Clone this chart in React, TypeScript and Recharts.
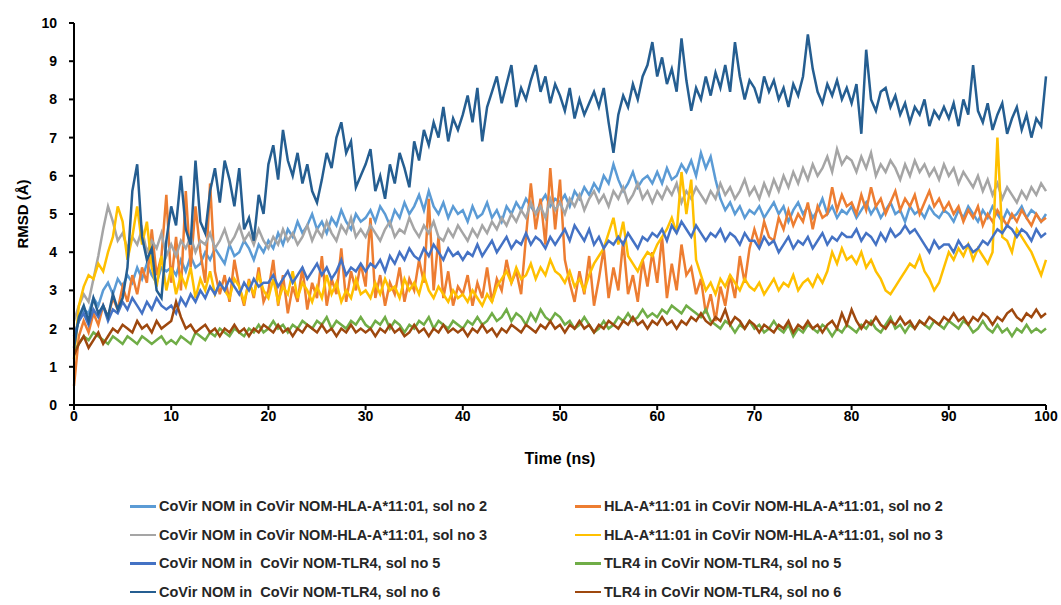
import { CartesianGrid, Legend, Line, LineChart, XAxis, YAxis } from 'recharts';

// sampled every 0.5 ns, 0..100
const time = Array.from({ length: 201 }, (_, i) => i * 0.5);

const nomHlaSol2 = [
  1.8, 2.2, 2.5, 2.4, 2.8, 2.6, 3.0, 3.2, 2.9, 3.3, 3.1, 3.4, 3.2, 3.6, 3.3, 3.7, 3.4, 3.2, 3.6, 3.5,
  3.6, 3.4, 3.8, 3.5, 3.9, 3.6, 3.7, 4.0, 3.8, 4.1, 3.9, 3.7, 4.2, 3.9, 4.0, 4.3, 4.1, 3.8, 4.2, 4.0,
  4.3, 4.1, 4.5, 4.2, 4.6, 4.4, 4.8, 4.5, 4.7, 5.0, 4.6, 4.8, 4.5, 4.9, 4.7, 5.1, 4.8, 4.6, 5.0, 4.8,
  4.9, 5.1, 4.8, 5.2, 5.0, 4.7, 5.1, 4.9, 5.3, 5.0, 5.2, 5.5, 5.1, 5.6, 5.2, 5.0, 5.3, 4.9, 5.2, 5.0,
  5.1, 4.8, 5.2, 4.9, 5.0, 5.3, 4.9, 5.1, 4.8, 5.2, 5.0, 5.3, 5.1, 5.4, 5.2, 5.0, 5.3, 5.5, 5.2, 5.4,
  5.3, 5.5, 5.2, 5.6, 5.4, 5.7, 5.5, 5.8, 5.6, 6.0, 5.8, 6.3, 5.9, 5.6, 5.8, 6.1, 5.7, 5.9, 6.0, 5.8,
  6.1, 5.8, 6.2, 5.9, 6.0, 6.3, 6.1, 6.4, 6.0, 6.6, 6.2, 6.5, 5.9, 5.4, 5.1, 5.3, 5.0, 5.2, 4.9, 5.1,
  5.0, 5.2, 4.9, 5.1, 5.3, 5.0, 5.2, 4.8, 5.1, 5.3, 5.0, 5.2, 4.9, 5.1, 5.4, 5.0, 5.2, 4.9, 5.1, 5.0,
  5.2, 4.9, 5.1, 5.3, 5.0, 5.2, 4.9, 5.1, 5.3, 5.0, 5.1, 4.8, 5.2, 5.0, 5.1, 4.9, 5.2, 5.0, 4.9, 5.1,
  5.0, 4.8, 5.1, 4.9, 5.2, 5.0, 4.8, 5.1, 4.9, 5.2, 5.0, 4.8, 5.1, 4.9, 5.0, 5.2, 4.9, 5.1, 5.0, 4.8,
  5.0,
];

const hlaSol2 = [
  0.5, 1.8, 2.2, 1.9, 2.4, 2.1, 2.6, 2.3, 2.8, 2.5, 3.1, 2.7, 3.4, 2.9, 3.6, 3.2, 4.6, 3.4, 3.9, 5.5,
  3.2, 4.4, 3.0, 5.6, 3.6, 5.2, 4.0, 3.2, 5.8, 3.5, 2.9, 3.4, 2.7, 3.8, 3.1, 2.6, 3.3, 2.8, 3.6, 2.7,
  3.0, 3.8, 2.6, 3.4, 2.4, 3.1, 2.7, 3.6, 2.5, 3.2, 2.8, 3.9, 2.6, 3.3, 2.9, 4.1, 2.7, 3.5, 3.0, 3.7,
  3.1, 4.9, 2.8, 3.4, 2.6, 3.2, 2.9, 3.6, 2.7, 3.3, 3.0, 3.8, 3.2, 5.4, 3.0, 4.4, 2.8, 3.5, 2.6, 3.1,
  2.9, 3.4, 2.6, 3.2, 2.8, 3.6, 2.7, 3.3, 3.0, 3.8, 3.2, 3.5, 2.9, 4.4, 5.8, 4.6, 5.4, 4.2, 6.2, 4.6,
  5.9, 3.8, 3.2, 2.7, 3.5, 2.9, 3.9, 2.6, 3.3, 4.1, 2.8, 3.6, 3.0, 4.3, 2.9, 3.4, 2.7, 3.8, 3.1, 4.0,
  3.2, 4.4, 2.8, 3.7, 3.0, 4.2, 3.4, 3.6, 2.9, 3.3, 2.4, 2.9, 2.2, 3.1, 2.6, 3.4, 2.8, 3.9, 3.2, 4.1,
  4.6, 4.2, 4.8, 4.4, 4.3, 4.9, 4.6, 5.1, 4.7, 5.0, 4.8, 5.3, 4.6, 5.2, 4.9, 5.0, 5.7, 5.1, 5.5, 5.2,
  5.3, 5.0, 5.5, 5.1, 5.7, 5.2, 5.4, 5.0, 5.3, 5.6, 5.1, 5.4, 5.2, 5.5, 5.0, 5.3, 5.6, 5.2, 5.4, 5.1,
  5.3, 5.0, 5.2, 4.8, 5.1, 4.9, 5.2, 4.7, 5.0, 4.8, 5.1, 4.9, 4.7, 5.0, 4.8, 5.1, 4.9, 4.7, 5.0, 4.8,
  4.9,
];

const nomHlaSol3 = [
  2.2, 2.6, 2.9, 2.7, 3.3, 3.9, 4.6, 5.2, 4.8, 4.3, 4.5, 4.1, 4.4, 4.2, 4.6, 4.0, 4.3, 4.1, 4.5, 3.9,
  4.2, 3.9, 4.3, 4.1, 4.4, 4.0, 4.3, 4.2, 4.5, 4.1, 4.3, 4.6, 4.2, 4.4, 4.7, 4.3, 4.5, 4.2, 4.6, 4.3,
  4.1, 4.4, 4.2, 4.6, 4.3, 4.5, 4.2, 4.4, 4.7, 4.3, 4.6, 4.4, 4.8, 4.5, 4.3, 4.7, 4.5, 4.9, 4.4, 4.6,
  4.4, 4.7, 4.5, 4.3, 4.6, 4.8, 4.4, 4.6, 4.5, 4.9, 4.6, 4.4, 4.7, 4.5, 4.8, 4.4, 4.3, 4.6, 4.4, 4.7,
  4.5, 4.3, 4.6, 4.4, 4.7, 4.5, 4.8, 4.6, 4.9, 4.7, 5.0, 4.8, 5.1, 4.9, 5.3, 5.0, 5.2, 4.9, 5.4, 5.1,
  5.3, 5.0, 5.4, 5.2, 5.5, 5.1, 5.4, 5.6, 5.3, 5.5, 5.2, 5.6, 5.4, 5.7, 5.3, 5.5, 5.8, 5.4, 5.6, 5.3,
  5.6, 5.4, 5.7, 5.5, 5.8, 5.3, 5.6, 5.4, 5.7, 5.5, 5.3, 5.6, 5.4, 5.8, 5.5, 5.7, 5.4, 5.6, 5.9, 5.5,
  5.7, 5.4, 5.8, 5.5, 5.9, 5.6, 6.0, 5.7, 6.1, 5.8, 6.2, 5.9, 6.3, 6.0, 6.2, 6.5, 6.1, 6.7, 6.3, 6.5,
  6.4, 6.1, 6.5, 6.2, 6.6, 6.0, 6.3, 6.1, 6.4, 6.2, 5.9, 6.3, 6.0, 6.4, 6.1, 6.3, 6.0, 6.2, 5.9, 6.3,
  6.0, 6.2, 5.8, 6.1, 5.9, 5.7, 6.0, 5.6, 5.9, 5.5, 5.8, 5.4, 5.7, 5.5, 5.3, 5.6, 5.4, 5.7, 5.5, 5.8,
  5.6,
];

const hlaSol3 = [
  1.2, 2.6, 3.1, 3.4, 3.3, 3.7, 3.5, 4.0, 4.4, 5.2, 4.8, 3.8, 4.4, 5.2, 4.2, 4.8, 3.6, 3.1, 3.9, 3.0,
  3.6, 2.9, 3.4, 3.1, 3.6, 2.8, 3.3, 3.0, 3.5, 2.9, 3.2, 3.0, 2.8, 3.3, 3.1, 2.7, 3.2, 2.9, 3.4, 3.0,
  2.8, 3.3, 2.7, 3.1, 2.9, 3.5, 2.8, 3.2, 3.0, 2.7, 3.1, 2.8, 3.4, 2.9, 3.2, 2.7, 3.0, 2.8, 3.3, 2.9,
  3.0, 2.8, 3.2, 2.9, 3.3, 3.0, 3.1, 2.8, 3.3, 3.0, 3.2, 2.9, 3.4, 3.0, 2.8, 3.1, 2.9, 2.7, 3.0, 2.8,
  2.9, 2.7, 3.0, 2.8, 2.6, 2.9, 2.7, 3.1, 3.3, 3.5, 3.2, 3.6, 3.3, 3.4, 3.7, 3.3, 3.6, 3.4, 3.8, 3.5,
  3.4, 3.2, 3.5, 3.1, 3.3, 3.0, 3.4, 3.7, 3.9, 4.1, 4.5, 4.9, 4.2, 4.8, 3.9, 3.7, 3.5, 3.8, 4.0, 3.9,
  4.2, 4.4, 4.6, 4.9, 4.5, 6.1, 5.0, 5.9, 3.8, 3.4, 3.0, 3.2, 2.9, 3.3, 3.1, 3.4, 3.2, 3.0, 3.3, 3.1,
  3.0, 3.2, 2.9, 3.1, 3.3, 3.0, 3.2, 3.1, 3.4, 3.0, 3.2, 3.3, 3.1, 3.4, 3.2, 3.5, 4.0, 3.7, 4.1, 3.8,
  3.9, 3.7, 4.0, 3.6, 3.8, 3.5, 3.3, 3.0, 2.9, 3.1, 3.3, 3.5, 3.7, 3.6, 3.9, 3.5, 3.3, 3.0, 3.2, 3.6,
  4.0, 3.8, 4.1, 3.9, 4.2, 3.8, 4.1, 3.9, 3.7, 4.0, 7.0, 4.4, 4.3, 4.0, 4.6, 4.4, 4.2, 4.0, 3.7, 3.4,
  3.8,
];

const nomTlrSol5 = [
  1.8, 2.2, 2.4, 2.1, 2.5, 2.3, 2.6, 2.2, 2.5, 2.4, 2.7, 2.5, 2.8, 2.6, 2.4, 2.7, 2.5, 2.8, 2.6, 2.5,
  2.6, 2.4, 2.8, 2.6, 2.9, 2.7, 3.0, 2.8, 3.1, 2.9, 3.2, 3.0, 3.3, 3.1, 2.9, 3.2, 3.0, 3.3, 3.1, 3.2,
  3.2, 3.4, 3.1, 3.3, 3.5, 3.2, 3.4, 3.6, 3.3, 3.5, 3.7, 3.4, 3.6, 3.3, 3.5, 3.8, 3.4, 3.6, 3.5, 3.7,
  3.5, 3.7, 3.6, 3.8, 3.5, 3.9, 3.7, 4.0, 3.8, 4.1, 3.9, 3.8, 4.1, 3.9, 4.2, 4.0, 3.8, 4.1, 3.9, 4.0,
  3.8, 4.0, 3.9, 4.2, 3.9, 4.1, 4.3, 4.0, 4.2, 4.4, 4.1, 4.3, 4.2, 4.5, 4.2, 4.4, 4.3, 4.1, 4.4, 4.2,
  4.4, 4.6, 4.3, 4.7, 4.5, 4.3, 4.6, 4.2, 4.4, 4.1, 4.3, 4.2, 4.4, 4.2, 4.5, 4.3, 4.1, 4.4, 4.3, 4.5,
  4.4, 4.6, 4.3, 4.7, 4.5, 4.8, 4.6, 4.4, 4.7, 4.5, 4.3, 4.5, 4.4, 4.6, 4.3, 4.5, 4.4, 4.2, 4.5, 4.3,
  4.3, 4.1, 4.4, 4.2, 4.3, 4.0, 4.2, 4.4, 4.1, 4.3, 4.2, 4.4, 4.1, 4.3, 4.5, 4.2, 4.4, 4.3, 4.5, 4.4,
  4.4, 4.6, 4.3, 4.5, 4.4, 4.2, 4.5, 4.3, 4.6, 4.4, 4.5, 4.7, 4.5, 4.6, 4.4, 4.2, 4.0, 4.3, 4.1, 4.2,
  4.2, 4.0, 4.3, 4.1, 4.2, 4.0, 4.1, 4.3, 4.2, 4.4, 4.6, 4.5, 4.7, 4.6, 4.4, 4.6, 4.5, 4.3, 4.6, 4.4,
  4.5,
];

const tlrSol5 = [
  1.4, 1.6, 1.8, 1.7, 1.9, 1.8, 1.7, 1.6, 1.8, 1.7, 1.6, 1.8, 1.7, 1.6, 1.8, 1.7, 1.6, 1.7, 1.8, 1.6,
  1.7, 1.6, 1.8, 1.7, 1.6, 1.9, 1.8, 1.7, 1.9, 1.8, 2.0, 1.9, 1.8, 2.0, 1.9, 1.8, 2.0, 1.9, 2.1, 1.9,
  2.0, 2.2, 2.0, 2.1, 1.9, 2.1, 2.0, 2.2, 2.1, 2.0, 2.2, 2.1, 2.3, 2.0, 2.2, 2.1, 2.0, 2.2, 2.1, 2.3,
  2.1, 2.0, 2.2, 2.1, 2.3, 2.0, 2.2, 2.1, 1.9, 2.1, 2.0, 2.2, 2.1, 2.3, 2.0, 2.2, 2.1, 2.0, 2.2, 2.1,
  2.0, 2.2, 2.1, 2.3, 2.1, 2.2, 2.4, 2.2, 2.3, 2.5, 2.2, 2.4, 2.3, 2.1, 2.4, 2.2, 2.5, 2.3, 2.2, 2.4,
  2.3, 2.1, 2.2, 2.0, 2.1, 2.3, 2.1, 1.9, 2.0, 2.2, 2.0, 2.1, 2.3, 2.2, 2.4, 2.2, 2.3, 2.5, 2.3, 2.4,
  2.3, 2.5, 2.4, 2.6, 2.5, 2.4, 2.6, 2.5, 2.4, 2.3, 2.5, 2.2, 2.1, 2.0, 2.2, 2.1, 1.9, 2.1, 2.0, 2.2,
  2.0, 2.1, 1.9, 2.0, 2.2, 2.0, 1.9, 2.1, 1.8, 2.0, 1.9, 2.1, 2.0, 1.9, 2.1, 2.0, 1.8, 2.0, 1.9, 2.1,
  2.0, 1.9, 2.1, 2.0, 2.2, 2.0, 1.9, 2.1, 2.3, 2.0, 2.1, 1.9, 2.1, 2.0, 2.2, 2.1, 2.0, 2.2, 2.1, 2.0,
  2.2, 2.1, 2.0, 2.2, 2.1, 1.9, 2.0, 2.2, 2.0, 1.9, 2.1, 1.9, 2.0, 1.8, 2.0, 1.9, 2.1, 1.9, 2.0, 1.9,
  2.0,
];

const nomTlrSol6 = [
  1.5, 2.3, 2.6, 2.2, 2.8, 2.4, 2.6, 2.3, 2.9, 2.5, 2.8, 3.6, 5.6, 6.3, 4.4, 3.8, 4.1, 3.0, 2.8, 4.3,
  5.2, 4.7, 6.0, 4.6, 4.2, 6.4, 4.8, 4.5, 5.6, 6.2, 5.3, 6.4, 5.9, 5.2, 6.2, 4.6, 4.9, 4.3, 5.5, 5.0,
  6.3, 6.8, 5.9, 7.2, 6.4, 6.0, 6.6, 5.8, 6.3, 5.6, 5.3, 5.9, 6.6, 6.2, 7.0, 7.4, 6.6, 6.9, 5.7, 6.0,
  6.3, 6.7, 5.6, 6.0, 5.4, 6.3, 5.8, 6.6, 6.2, 5.7, 6.9, 6.4, 7.2, 6.8, 7.4, 7.0, 7.8, 6.9, 7.5, 7.2,
  7.6, 8.1, 7.4, 8.3, 6.9, 7.8, 8.2, 8.6, 7.9, 8.4, 8.9, 7.8, 8.3, 8.0, 8.5, 8.9, 8.2, 8.6, 7.9, 8.4,
  8.1, 7.7, 8.3, 7.5, 8.0, 7.6, 7.9, 8.2, 7.8, 8.3, 7.4, 6.6, 7.6, 8.1, 7.8, 8.4, 8.0, 8.6, 8.9, 9.5,
  8.6, 9.1, 8.4, 8.8, 8.2, 9.6, 8.5, 7.7, 8.3, 8.0, 8.6, 8.1, 8.7, 8.3, 8.9, 8.2, 9.5, 8.6, 8.0, 8.5,
  8.3, 7.9, 8.6, 8.2, 8.5, 8.0, 8.3, 7.8, 8.4, 8.1, 8.6, 9.7, 8.8, 8.2, 7.9, 8.4, 8.1, 8.5, 8.0, 8.3,
  7.9, 8.4, 7.1, 9.3, 8.0, 7.7, 8.2, 8.3, 7.8, 8.1, 7.6, 7.9, 7.4, 7.8, 7.6, 8.0, 7.3, 7.7, 7.5, 7.8,
  7.5, 7.9, 7.3, 8.0, 7.6, 8.9, 7.7, 7.4, 7.9, 7.2, 7.6, 7.9, 7.1, 7.5, 7.8, 7.2, 7.6, 7.0, 7.5, 7.3,
  8.6,
];

const tlrSol6 = [
  1.3, 1.6, 1.8, 1.5, 1.7, 1.9, 1.6, 1.8, 2.0, 1.9, 2.1, 2.0, 1.9, 2.2, 2.0, 2.1, 1.9, 2.2, 2.0, 2.1,
  2.2, 2.7, 2.3, 2.0, 2.1, 1.9, 2.0, 2.1, 1.9, 2.0, 1.8, 2.0, 1.9, 2.1, 1.9, 2.0, 1.8, 2.0, 1.9, 2.1,
  2.0, 1.9, 2.1, 1.9, 2.0, 1.8, 2.0, 1.9, 2.1, 2.0, 1.9, 2.1, 1.9, 2.0, 1.8, 2.0, 1.9, 2.1, 1.9, 2.0,
  1.9, 2.0, 1.8, 2.0, 1.9, 2.1, 1.9, 2.0, 1.8, 1.9, 2.1, 1.9, 2.0, 1.8, 2.0, 1.9, 2.1, 1.9, 2.0, 1.9,
  2.0, 1.8, 2.0, 1.9, 2.1, 1.9, 2.0, 1.8, 2.0, 1.9, 2.1, 2.0, 1.9, 2.1, 2.0, 1.9, 2.1, 2.0, 2.2, 2.0,
  2.1, 1.9, 2.1, 2.0, 2.2, 2.0, 2.1, 1.9, 2.1, 2.0, 2.2, 2.1, 2.0, 2.2, 2.1, 2.3, 2.1, 2.2, 2.0, 2.2,
  2.1, 2.3, 2.1, 2.2, 2.0, 2.2, 2.1, 2.3, 2.2, 2.4, 2.2, 2.1, 2.3, 2.2, 2.5, 2.1, 2.3, 2.2, 2.0, 2.2,
  2.1, 1.9, 2.1, 2.0, 1.9, 2.1, 2.0, 2.2, 1.9, 2.1, 2.0, 2.2, 2.0, 2.1, 1.9, 2.1, 2.2, 2.0, 2.4, 2.1,
  2.5, 2.2, 2.0, 2.2, 2.1, 2.3, 2.1, 2.0, 2.2, 2.1, 2.3, 2.1, 2.2, 2.0, 2.2, 2.1, 2.3, 2.2, 2.1, 2.3,
  2.2, 2.4, 2.2, 2.3, 2.1, 2.3, 2.2, 2.4, 2.3, 2.1, 2.3, 2.2, 2.4, 2.5, 2.3, 2.2, 2.4, 2.3, 2.5, 2.3,
  2.4,
];

const xTicks = [0, 10, 20, 30, 40, 50, 60, 70, 80, 90, 100];
const yTicks = [0, 1, 2, 3, 4, 5, 6, 7, 8, 9, 10];

const series = [
  { key: 'nomHlaSol2', name: 'CoVir NOM in CoVir NOM-HLA-A*11:01, sol no 2', color: '#5b9bd5', values: nomHlaSol2 },
  { key: 'hlaSol2', name: 'HLA-A*11:01 in CoVir NOM-HLA-A*11:01, sol no 2', color: '#ed7d31', values: hlaSol2 },
  { key: 'nomHlaSol3', name: 'CoVir NOM in CoVir NOM-HLA-A*11:01, sol no 3', color: '#a5a5a5', values: nomHlaSol3 },
  { key: 'hlaSol3', name: 'HLA-A*11:01 in CoVir NOM-HLA-A*11:01, sol no 3', color: '#ffc000', values: hlaSol3 },
  { key: 'nomTlrSol5', name: 'CoVir NOM in  CoVir NOM-TLR4, sol no 5', color: '#4472c4', values: nomTlrSol5 },
  { key: 'tlrSol5', name: 'TLR4 in CoVir NOM-TLR4, sol no 5', color: '#70ad47', values: tlrSol5 },
  { key: 'nomTlrSol6', name: 'CoVir NOM in  CoVir NOM-TLR4, sol no 6', color: '#255e91', values: nomTlrSol6 },
  { key: 'tlrSol6', name: 'TLR4 in CoVir NOM-TLR4, sol no 6', color: '#9e480e', values: tlrSol6 },
];

const data = time.map((t, i) => {
  const row: Record<string, number> = { t };
  series.forEach((s) => {
    row[s.key] = s.values[i];
  });
  return row;
});

const font = '"Liberation Sans", Arial, sans-serif';
const tickStyle = { fill: '#000', fontSize: 14, fontWeight: 700, fontFamily: font };

function YLabel({ viewBox }: any) {
  const cx = viewBox.x + 22;
  const cy = viewBox.y + viewBox.height / 2;
  return (
    <text
      x={cx}
      y={cy}
      transform={`rotate(-90 ${cx} ${cy})`}
      textAnchor="middle"
      dominantBaseline="central"
      fontFamily={font}
      fontSize={15}
      fontWeight={700}
      fill="#000"
    >
      RMSD (Å)
    </text>
  );
}

// legend drawn in series order, two columns like the Excel original
function LegendBox() {
  return (
    <div
      style={{
        display: 'grid',
        gridTemplateColumns: '445px 420px',
        gridAutoRows: '28.5px',
        paddingLeft: 130,
        paddingTop: 22,
        height: 135,
        boxSizing: 'border-box',
        fontFamily: font,
        fontSize: 14.5,
        fontWeight: 700,
        color: '#262626',
      }}
    >
      {series.map((s) => (
        <div key={s.key} style={{ display: 'flex', alignItems: 'center', whiteSpace: 'pre' }}>
          <span style={{ display: 'inline-block', width: 26, height: 2.5, background: s.color, marginRight: 3 }} />
          {s.name}
        </div>
      ))}
    </div>
  );
}

export default function App() {
  return (
    <div style={{ position: 'absolute', left: 0, top: 0, width: 1061, height: 605, background: '#fff' }}>
      <LineChart width={1061} height={605} data={data} margin={{ top: 23, right: 15, bottom: 0, left: 0 }}>
        <CartesianGrid stroke="none" />
        <XAxis
          dataKey="t"
          type="number"
          domain={[0, 100]}
          ticks={xTicks}
          height={65}
          tick={tickStyle}
          tickSize={5}
          tickMargin={1}
          axisLine={{ stroke: '#000', strokeWidth: 2 }}
          tickLine={{ stroke: '#000', strokeWidth: 2 }}
          label={{
            value: 'Time (ns)',
            position: 'insideBottom',
            offset: 6,
            fill: '#000',
            fontSize: 16,
            fontWeight: 700,
            fontFamily: font,
          }}
        />
        <YAxis
          type="number"
          domain={[0, 10]}
          ticks={yTicks}
          width={74}
          tick={tickStyle}
          tickSize={5}
          tickMargin={12}
          axisLine={{ stroke: '#000', strokeWidth: 2 }}
          tickLine={{ stroke: '#000', strokeWidth: 2 }}
          label={{ content: <YLabel /> }}
        />
        <Legend verticalAlign="bottom" content={<LegendBox />} wrapperStyle={{ left: 0, width: 1061 }} />
        {series.map((s) => (
          <Line
            key={s.key}
            dataKey={s.key}
            name={s.name}
            stroke={s.color}
            strokeWidth={2.5}
            dot={false}
            type="linear"
            isAnimationActive={false}
          />
        ))}
      </LineChart>
    </div>
  );
}
